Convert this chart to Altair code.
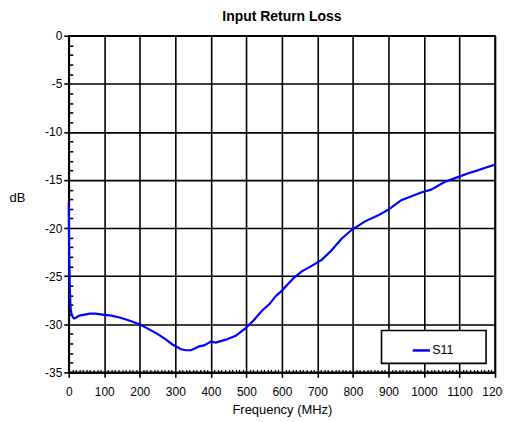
import altair as alt
import pandas as pd

freq = [0, 0.5, 1, 2, 3, 5, 8, 12, 16, 21, 30, 45, 59, 75, 96, 120, 143, 170, 199, 220, 245, 270, 292, 316, 330, 344, 356, 367, 381, 400, 414, 442, 470, 498, 520, 544, 565, 582, 600, 633, 656, 685, 712, 740, 768, 796, 834, 870, 899, 936, 965, 992, 1020, 1058, 1095, 1125, 1151, 1175, 1200]
s11 = [-17.3, -19.5, -22.0, -24.5, -26.3, -28.3, -29.0, -29.3, -29.4, -29.3, -29.1, -29.0, -28.9, -28.9, -29.0, -29.1, -29.3, -29.6, -30.0, -30.4, -30.9, -31.5, -32.1, -32.6, -32.7, -32.7, -32.5, -32.3, -32.2, -31.8, -31.9, -31.6, -31.2, -30.4, -29.6, -28.6, -27.9, -27.1, -26.5, -25.2, -24.5, -23.9, -23.3, -22.3, -21.1, -20.2, -19.3, -18.7, -18.1, -17.1, -16.7, -16.3, -16.0, -15.2, -14.7, -14.3, -14.0, -13.7, -13.4]

x_major = list(range(0, 1201, 100))
x_minor = [v for v in range(0, 1201, 10) if v % 100 != 0]
y_major = [0, -5, -10, -15, -20, -25, -30, -35]
y_minor = [v for v in range(-35, 1) if v % 5 != 0]

df = pd.DataFrame({"freq": freq, "s11": s11, "series": ["S11"] * len(freq)})

FONT = "Liberation Sans"

xscale = alt.Scale(domain=[0, 1200], nice=False, zero=False)
yscale = alt.Scale(domain=[-35, 0], nice=False, zero=False)

line = alt.Chart(df).mark_line(strokeWidth=2.2, color="#0000FF").encode(
    x=alt.X("freq:Q", scale=xscale,
            axis=alt.Axis(values=x_major, title="Frequency (MHz)", grid=True,
                          gridColor="black", gridWidth=1.6, gridOpacity=1,
                          domainColor="black", domainWidth=1.6,
                          tickColor="black", tickWidth=1.6, tickSize=5,
                          labelFont=FONT, labelFontSize=12, labelColor="black",
                          labelPadding=9, labelOverlap=False, labelFlush=False,
                          labelExpr="toString(datum.value)",
                          titleFont=FONT, titleFontSize=13, titleFontWeight="normal",
                          titleColor="black", titlePadding=6)),
    y=alt.Y("s11:Q", scale=yscale,
            axis=alt.Axis(values=y_major, title="dB", grid=True,
                          gridColor="black", gridWidth=1.6, gridOpacity=1,
                          domainColor="black", domainWidth=1.6,
                          tickColor="black", tickWidth=1.6, tickSize=5,
                          labelFont=FONT, labelFontSize=12, labelColor="black",
                          labelPadding=2, labelFlush=False,
                          labelExpr="toString(datum.value)",
                          titleFont=FONT, titleFontSize=13, titleFontWeight="normal",
                          titleColor="black", titleAngle=0, titleAlign="center",
                          titleBaseline="middle", titleX=-52, titleY=162)),
    stroke=alt.Stroke("series:N",
                      scale=alt.Scale(domain=["S11"], range=["#0000FF"]),
                      legend=alt.Legend(title=None, orient="none", legendX=314, legendY=296,
                                        padding=10, symbolType="stroke",
                                        symbolStrokeWidth=2.5, symbolSize=300,
                                        symbolOffset=20, labelOffset=1,
                                        labelFont=FONT, labelFontSize=12.5,
                                        labelColor="black")),
)

minor = alt.Chart(df).mark_point(opacity=0).encode(
    x=alt.X("freq:Q", scale=xscale,
            axis=alt.Axis(values=x_minor, labels=False, title=None, grid=False,
                          domain=False, tickColor="black", tickWidth=1.2,
                          tickSize=3, offset=-3, orient="bottom")),
    y=alt.Y("s11:Q", scale=yscale,
            axis=alt.Axis(values=y_minor, labels=False, title=None, grid=False,
                          domain=False, tickColor="black", tickWidth=1.6,
                          tickSize=4, offset=-4, orient="left")),
)

legend_box = alt.Chart(df.head(1)).mark_rect(fill="white", stroke="black", strokeWidth=1.6).encode(
    x=alt.value(314), x2=alt.value(419), y=alt.value(296), y2=alt.value(329)
)

chart = alt.layer(line, minor, legend_box).resolve_axis(x="independent", y="independent").properties(
    width=428, height=338,
    title=alt.TitleParams("Input Return Loss", font=FONT, fontSize=14,
                          fontWeight="bold", color="black", offset=6),
    autosize=alt.AutoSizeParams(type="none"),
    padding={"left": 61, "top": 27, "right": 8, "bottom": 50},
).configure_view(stroke="black", strokeWidth=1.6)

chart.save("out.html", embed_options={"renderer": "svg", "actions": False})
